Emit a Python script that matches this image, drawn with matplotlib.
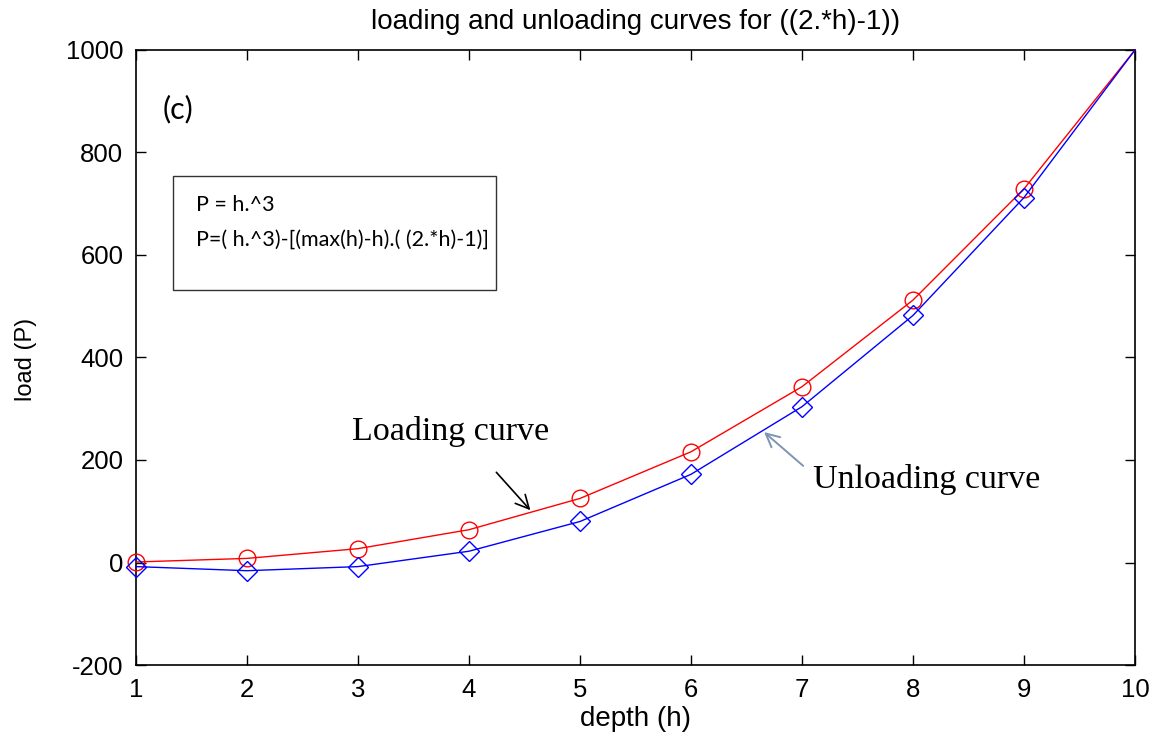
import matplotlib.pyplot as plt
from matplotlib.patches import Rectangle

# depth values and loads for the two curves
depth = [1, 2, 3, 4, 5, 6, 7, 8, 9, 10]
load_loading = [1, 8, 27, 64, 125, 216, 343, 512, 729, 1000]
load_unloading = [-8, -16, -8, 22, 80, 172, 304, 482, 712, 1000]

xticks = [1, 2, 3, 4, 5, 6, 7, 8, 9, 10]
yticks = [-200, 0, 200, 400, 600, 800, 1000]

plt.rcParams['font.family'] = ['Liberation Sans', 'DejaVu Sans']
plt.rcParams['axes.unicode_minus'] = False

fig = plt.figure(figsize=(11.72, 7.34), dpi=100)
ax = fig.add_axes([0.116, 0.094, 0.8524, 0.8379])

ax.plot(depth, load_loading, color='red', lw=1.0, marker='o', markersize=12,
        markerfacecolor='none', markeredgecolor='red', markeredgewidth=1.0,
        markevery=list(range(9)), clip_on=False, zorder=3)
ax.plot(depth, load_unloading, color='blue', lw=1.0, marker='D', markersize=10,
        markerfacecolor='none', markeredgecolor='blue', markeredgewidth=1.0,
        markevery=list(range(9)), clip_on=False, zorder=3)

ax.set_xlim(1, 10)
ax.set_ylim(-200, 1000)
ax.set_xticks(xticks)
ax.set_yticks(yticks)
ax.tick_params(direction='in', top=True, right=True, length=7, width=1,
               labelsize=18.5, pad=9)
for s in ax.spines.values():
    s.set_linewidth(1.2)

ax.set_title('loading and unloading curves for ((2.*h)-1))', fontsize=20, pad=15)
ax.set_xlabel('depth (h)', fontsize=20)
ax.xaxis.set_label_coords(0.5, -0.087)
ax.xaxis.label.set_va('center')
ax.set_ylabel('load (P)', fontsize=17)
ax.yaxis.set_label_coords(-0.099, 0.497)

# panel tag and formula box
ax.text(1.24, 885, '(c)', fontsize=22, family=['Lato', 'DejaVu Sans'], va='center')
ax.add_patch(Rectangle((1.333, 532), 2.91, 222, fill=False, edgecolor='#333333',
                       lw=1.0, zorder=4))
ax.text(1.54, 697, 'P = h.^3', fontsize=15.5, family=['Lato', 'DejaVu Sans'], va='center')
ax.text(1.54, 629, 'P=( h.^3)-[(max(h)-h).( (2.*h)-1)]', fontsize=15.5,
        family=['Lato', 'DejaVu Sans'], va='center')

# arrow labels
ax.annotate('Loading curve', xy=(4.57, 98), xytext=(2.95, 255),
            fontsize=24.5, family=['Liberation Serif', 'DejaVu Serif'], va='center')
ax.annotate('', xy=(4.57, 98), xytext=(4.23, 180),
            arrowprops=dict(arrowstyle='->', color='black', lw=1.2,
                            mutation_scale=24))
ax.annotate('Unloading curve', xy=(6.64, 258), xytext=(7.1, 161),
            fontsize=24.5, family=['Liberation Serif', 'DejaVu Serif'], va='center')
ax.annotate('', xy=(6.64, 258), xytext=(7.03, 185),
            arrowprops=dict(arrowstyle='->', color='#7f93b5', lw=1.4,
                            mutation_scale=24))

fig.savefig('out.png', dpi=100)
